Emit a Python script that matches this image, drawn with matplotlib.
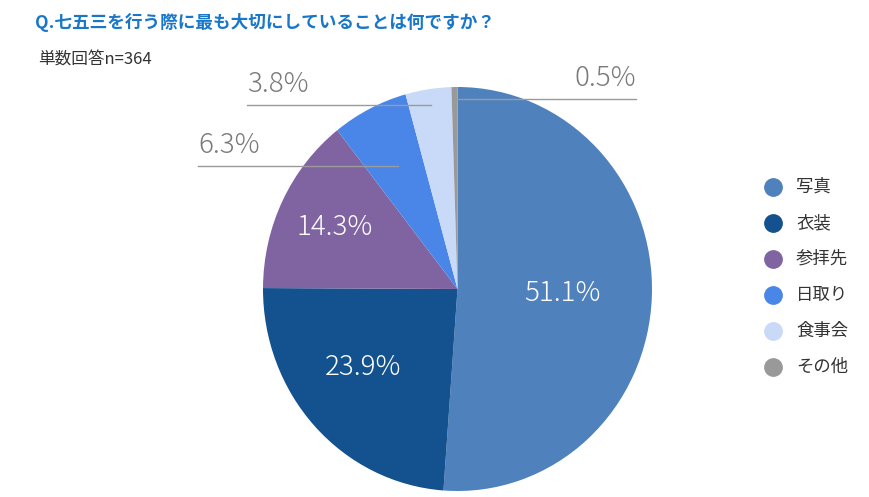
import numpy as np
import matplotlib
matplotlib.use("Agg")
import matplotlib.pyplot as plt
from matplotlib.lines import Line2D

plt.rcParams['font.family'] = ['Noto Sans CJK JP', 'DejaVu Sans']

# data
categories = ["写真", "衣装", "参拝先", "日取り", "食事会", "その他"]
values = [51.1, 23.9, 14.3, 6.3, 3.8, 0.5]
value_labels = ["51.1%", "23.9%", "14.3%", "6.3%", "3.8%", "0.5%"]
colors = ["#4F81BD", "#13518F", "#8064A2", "#4A86E8", "#C9DAF8", "#999999"]

title = "Q.七五三を行う際に最も大切にしていることは何ですか？"
subtitle = "単数回答n=364"

W, H = 870, 497
fig = plt.figure(figsize=(W / 100, H / 100), dpi=100)

# pie box in pixels (slightly taller than wide, as in the reference)
left, right, top, bottom = 263, 652, 87, 491
ax = fig.add_axes([left / W, (H - bottom) / H, (right - left) / W, (bottom - top) / H])
wedges, _ = ax.pie(values, colors=colors, startangle=90, counterclock=False,
                   radius=1.0, wedgeprops=dict(linewidth=0))
ax.set_aspect('auto')
ax.set_xlim(-1, 1)
ax.set_ylim(-1, 1)
ax.axis('off')

px = (right - left) / 2.0   # pixels per data unit, x
py = (bottom - top) / 2.0   # pixels per data unit, y

def mid_angle(w):
    return np.deg2rad((w.theta1 + w.theta2) / 2.0)

# labels inside the big slices (radius, small angle shift in degrees)
inside_pos = [(0.54, 0.0), (0.62, -4.0), (0.70, 0.0)]
for w, lab, (r, da) in zip(wedges[:3], value_labels[:3], inside_pos):
    a = mid_angle(w) + np.deg2rad(da)
    ax.text(r * np.cos(a), r * np.sin(a), lab, ha='center', va='center',
            color='white', fontsize=20, fontweight='light', clip_on=False)

# leader-line labels for the small slices
# (anchor radius, line far end in data x, text alignment)
outside = [
    (0.68, (198 - 457.5) / px, 'left'),
    (0.92, (247 - 457.5) / px, 'left'),
    (0.94, (636 - 457.5) / px, 'right'),
]
for w, lab, (r, xend, ha) in zip(wedges[3:], value_labels[3:], outside):
    a = mid_angle(w)
    x0, y0 = r * np.cos(a), r * np.sin(a)
    ax.add_line(Line2D([x0, xend], [y0, y0], color='#9a9a9a', linewidth=1.0,
                       clip_on=False))
    ax.text(xend, y0 + 7 / py, lab, ha=ha, va='bottom', color='#7a7a7a',
            fontsize=20, fontweight='light', clip_on=False)

# title and subtitle
fig.text(35 / W, 1 - 22 / H, title, ha='left', va='center', color='#1877C9',
         fontsize=12.7, fontweight='bold')
fig.text(38 / W, 1 - 60 / H, subtitle, ha='left', va='center', color='#333333',
         fontsize=12)

# legend
for i, (cat, col) in enumerate(zip(categories, colors)):
    yy = 1 - (187 + 36 * i) / H
    fig.add_artist(Line2D([773 / W], [yy], marker='o', markersize=12.5,
                          markerfacecolor=col, markeredgecolor=col,
                          linestyle='none', transform=fig.transFigure))
    fig.text(796 / W, yy, cat, ha='left', va='center', color='#333333',
             fontsize=12.5)

fig.savefig("out.png", dpi=100)
